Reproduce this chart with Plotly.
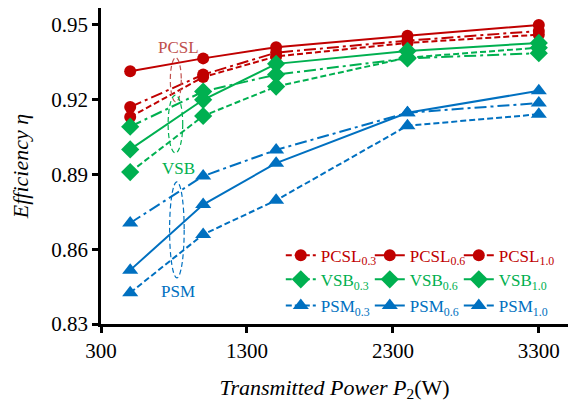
import plotly.graph_objects as go

power = [500, 1000, 1500, 2400, 3300]

pcsl_03 = [0.9130, 0.9290, 0.9373, 0.9427, 0.9460]
pcsl_06 = [0.9313, 0.9365, 0.9410, 0.9456, 0.9499]
pcsl_10 = [0.9170, 0.9300, 0.9388, 0.9436, 0.9475]

vsb_03 = [0.8909, 0.9134, 0.9252, 0.9368, 0.9408]
vsb_06 = [0.9000, 0.9199, 0.9343, 0.9395, 0.9427]
vsb_10 = [0.9091, 0.9232, 0.9300, 0.9365, 0.9386]

psm_03 = [0.8425, 0.8659, 0.8796, 0.9095, 0.9141]
psm_06 = [0.8516, 0.8779, 0.8945, 0.9147, 0.9235]
psm_10 = [0.8705, 0.8893, 0.8998, 0.9147, 0.9186]

x_ticks = [300, 1300, 2300, 3300]
y_ticks = [0.83, 0.86, 0.89, 0.92, 0.95]

RED = "#C00000"
GREEN = "#00B050"
BLUE = "#0070C0"
DASH = "6px,3px"
DASHDOT = "12px,4px,3px,4px"
FONT = "Times New Roman, Liberation Serif, DejaVu Serif, serif"

series = [
    ("PCSL<sub>0.3</sub>", pcsl_03, RED, DASH, "circle", 12, "legend"),
    ("PCSL<sub>0.6</sub>", pcsl_06, RED, "solid", "circle", 12, "legend"),
    ("PCSL<sub>1.0</sub>", pcsl_10, RED, DASHDOT, "circle", 12, "legend"),
    ("VSB<sub>0.3</sub>", vsb_03, GREEN, DASH, "diamond", 14, "legend2"),
    ("VSB<sub>0.6</sub>", vsb_06, GREEN, "solid", "diamond", 14, "legend2"),
    ("VSB<sub>1.0</sub>", vsb_10, GREEN, DASHDOT, "diamond", 14, "legend2"),
    ("PSM<sub>0.3</sub>", psm_03, BLUE, DASH, "triangle-up", 14, "legend3"),
    ("PSM<sub>0.6</sub>", psm_06, BLUE, "solid", "triangle-up", 14, "legend3"),
    ("PSM<sub>1.0</sub>", psm_10, BLUE, DASHDOT, "triangle-up", 14, "legend3"),
]

fig = go.Figure()
for name, ys, col, dash, sym, size, leg in series:
    fig.add_trace(go.Scatter(
        x=power, y=ys, name=name, mode="lines+markers",
        line=dict(color=col, width=2, dash=dash),
        marker=dict(color=col, symbol=sym, size=size),
        legend=leg,
    ))

# invisible spacer entries so the third legend column is not clipped
for leg_id in ["legend", "legend2", "legend3"]:
    fig.add_trace(go.Scatter(
        x=[None], y=[None], name=" ", mode="markers",
        marker=dict(color="rgba(0,0,0,0)", size=1),
        legend=leg_id, hoverinfo="skip",
    ))

def leg(y, color):
    return dict(
        orientation="h", x=0.385, xanchor="left", y=y, yanchor="middle",
        bgcolor="rgba(0,0,0,0)", borderwidth=0, itemwidth=30,
        entrywidth=44, entrywidthmode="pixels",
        font=dict(family=FONT, size=17, color=color),
    )

fig.update_layout(
    width=584, height=406,
    margin=dict(l=93, r=24, t=0, b=90, autoexpand=False),
    plot_bgcolor="white", paper_bgcolor="white",
    font=dict(family=FONT, size=20, color="black"),
    showlegend=True,
    legend=leg(0.216, RED),
    legend2=leg(0.140, GREEN),
    legend3=leg(0.057, BLUE),
    xaxis=dict(
        range=[300, 3500], tickvals=x_ticks, ticktext=[str(v) for v in x_ticks],
        showgrid=False, zeroline=False, showline=True, linecolor="black", linewidth=2.5,
        ticks="outside", ticklen=6, tickwidth=2.5, tickcolor="black",
        tickfont=dict(family=FONT, size=21), automargin=False,
        title=dict(text="<i>Transmitted Power P</i><sub>2</sub>(W)",
                   font=dict(family=FONT, size=22), standoff=18),
    ),
    yaxis=dict(
        range=[0.83, 0.9567], tickvals=y_ticks, ticktext=["%.2f" % v for v in y_ticks],
        showgrid=False, zeroline=False, showline=True, linecolor="black", linewidth=2.5,
        ticks="outside", ticklen=6, tickwidth=2.5, tickcolor="black",
        tickfont=dict(family=FONT, size=21), automargin=False,
        title=dict(text="<i>Efficiency η</i>", font=dict(family=FONT, size=22), standoff=19),
    ),
)

# group annotations: text labels and dashed ellipses
fig.add_annotation(x=828, y=0.9407, text="PCSL", showarrow=False,
                   font=dict(family=FONT, size=17, color="#C0504D"))
fig.add_annotation(x=828, y=0.8925, text="VSB", showarrow=False,
                   font=dict(family=FONT, size=17, color=GREEN))
fig.add_annotation(x=828, y=0.8432, text="PSM", showarrow=False,
                   font=dict(family=FONT, size=17, color=BLUE))

fig.add_shape(type="circle", xref="x", yref="y", x0=775, x1=850, y0=0.9190, y1=0.9368,
              line=dict(color="#C0504D", width=1.2, dash="5px,3px"))
fig.add_shape(type="circle", xref="x", yref="y", x0=760, x1=860, y0=0.8986, y1=0.9218,
              line=dict(color=GREEN, width=1.2, dash="5px,3px"))
fig.add_shape(type="circle", xref="x", yref="y", x0=770, x1=870, y0=0.8485, y1=0.8870,
              line=dict(color=BLUE, width=1.2, dash="5px,3px"))

fig.write_html("out.html")
